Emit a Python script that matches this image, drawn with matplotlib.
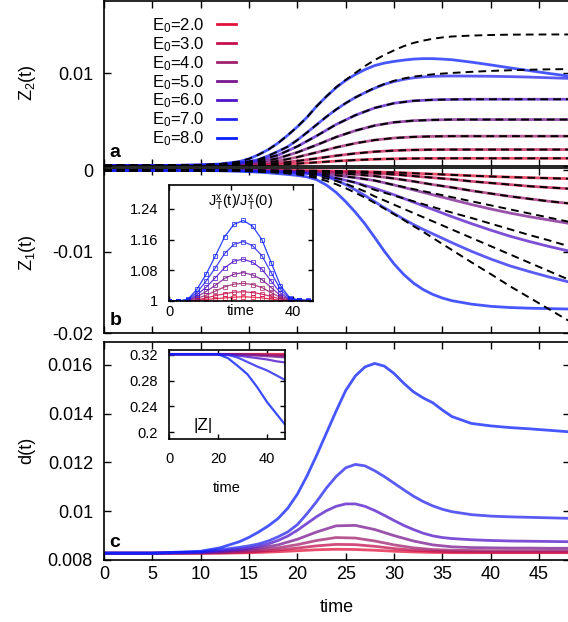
import numpy as np
import matplotlib
matplotlib.use("Agg")
import matplotlib.pyplot as plt

plt.rcParams['font.family'] = ['Liberation Sans', 'DejaVu Sans']
plt.rcParams['mathtext.default'] = 'regular'
plt.rcParams['axes.unicode_minus'] = False

# ---- data (main panels in units of 1e-3) ----
energies = ['2.0', '3.0', '4.0', '5.0', '6.0', '7.0', '8.0']
colors = ['#e2123a', '#c4104e', '#a0206e', '#78188e', '#5014c8', '#2424f0', '#0a1eff']

# coarse time grid for the gentle curves, finer one for the strongly bent ones
t = [0, 5, 10, 12, 14, 16, 18, 20, 22, 24, 26, 28, 30, 32, 34, 36, 38, 40, 42, 44, 46, 48]
t_fine = [0, 5, 10, 12, 14, 15, 16, 17, 18, 19, 20, 21, 22, 23, 24, 25, 26, 27, 28, 29, 30,
          31, 32, 33, 34, 35, 36, 38, 40, 42, 44, 46, 48]

# panel a: Z2(t)
z2_e2 = [0, 0, 0.01, 0.02, 0.04, 0.07, 0.13, 0.23, 0.36, 0.50, 0.61, 0.70, 0.75, 0.78, 0.79, 0.80, 0.80, 0.80, 0.80, 0.80, 0.80, 0.80]
z2_e3 = [0, 0, 0.02, 0.04, 0.07, 0.14, 0.28, 0.51, 0.79, 1.08, 1.33, 1.52, 1.64, 1.71, 1.74, 1.75, 1.75, 1.75, 1.75, 1.75, 1.75, 1.75]
z2_e4 = [0, 0, 0.03, 0.06, 0.12, 0.25, 0.51, 0.93, 1.44, 1.98, 2.43, 2.78, 3.00, 3.12, 3.18, 3.20, 3.20, 3.20, 3.20, 3.20, 3.20, 3.20]
z2_e5 = [0, 0, 0.05, 0.10, 0.19, 0.39, 0.80, 1.45, 2.25, 3.10, 3.80, 4.35, 4.70, 4.88, 4.96, 5.00, 5.00, 5.00, 5.00, 5.00, 5.00, 5.00]
z2_e6 = [0, 0, 0.07, 0.14, 0.27, 0.56, 1.15, 2.09, 3.24, 4.46, 5.47, 6.26, 6.77, 7.03, 7.14, 7.18, 7.20, 7.20, 7.20, 7.20, 7.20, 7.20]
z2_e7 = [0, 0, 0.06, 0.14, 0.30, 0.44, 0.68, 1.08, 1.55, 2.06, 2.78, 3.60, 4.45, 5.30, 6.08, 6.78, 7.40,
         7.92, 8.40, 8.82, 9.12, 9.35, 9.52, 9.62, 9.68, 9.71, 9.72, 9.71, 9.69, 9.65, 9.60, 9.53, 9.46]
z2_e8 = [0, 0, 0.08, 0.18, 0.45, 0.75, 1.20, 1.75, 2.45, 3.30, 4.22, 5.25, 6.45, 7.50, 8.45, 9.25, 9.88,
         10.42, 10.85, 11.12, 11.30, 11.44, 11.55, 11.60, 11.60, 11.55, 11.48, 11.22, 10.92, 10.60, 10.30, 10.00, 9.72]
z2_e7_dash = [0, 0, 0.06, 0.14, 0.30, 0.44, 0.68, 1.08, 1.55, 2.06, 2.78, 3.60, 4.45, 5.30, 6.08, 6.78, 7.40,
              7.92, 8.45, 8.85, 9.20, 9.45, 9.65, 9.78, 9.90, 9.98, 10.05, 10.17, 10.27, 10.34, 10.40, 10.44, 10.47]
z2_e8_dash = [0, 0, 0.08, 0.18, 0.45, 0.75, 1.20, 1.75, 2.45, 3.30, 4.22, 5.25, 6.45, 7.50, 8.50, 9.30, 10.05,
              10.80, 11.45, 12.00, 12.50, 12.95, 13.30, 13.55, 13.75, 13.90, 14.00, 14.10, 14.16, 14.20, 14.21, 14.22, 14.22]

# panel b: Z1(t)
z1_e2 = [0, 0, 0, 0, -0.005, -0.01, -0.02, -0.03, -0.05, -0.08, -0.12, -0.18, -0.25, -0.35, -0.45, -0.55, -0.66, -0.75, -0.83, -0.90, -0.96, -1.02]
z1_e3 = [0, 0, 0, -0.005, -0.01, -0.02, -0.04, -0.06, -0.10, -0.17, -0.26, -0.37, -0.50, -0.70, -0.90, -1.10, -1.35, -1.55, -1.75, -1.95, -2.10, -2.25]
z1_e4 = [0, 0, -0.005, -0.01, -0.02, -0.04, -0.07, -0.12, -0.20, -0.33, -0.50, -0.70, -1.00, -1.35, -1.75, -2.10, -2.50, -2.85, -3.20, -3.50, -3.80, -4.05]
z1_e5 = [0, 0, -0.01, -0.02, -0.03, -0.06, -0.10, -0.18, -0.35, -0.60, -0.90, -1.25, -1.80, -2.40, -3.00, -3.60, -4.20, -4.75, -5.25, -5.70, -6.10, -6.50]
z1_e6 = [0, 0, -0.01, -0.02, -0.04, -0.08, -0.14, -0.25, -0.50, -0.95, -1.50, -2.20, -3.00, -3.90, -4.80, -5.70, -6.55, -7.35, -8.10, -8.75, -9.35, -9.90]
z1_e7 = [0, 0, -0.01, -0.03, -0.06, -0.08, -0.11, -0.15, -0.20, -0.25, -0.30, -0.36, -0.45, -0.75, -1.20, -1.75, -2.40,
         -3.10, -3.85, -4.60, -5.30, -6.00, -6.65, -7.25, -7.80, -8.35, -8.90, -9.95, -10.90, -11.75, -12.45, -13.10, -13.70]
z1_e8 = [0, 0, -0.02, -0.05, -0.10, -0.15, -0.22, -0.30, -0.40, -0.50, -0.62, -0.80, -1.15, -1.80, -2.70, -3.85, -5.15,
         -6.60, -8.25, -9.95, -11.50, -12.80, -13.85, -14.65, -15.25, -15.70, -16.03, -16.45, -16.72, -16.87, -16.95, -17.00, -17.05]
z1_e5_dash = [0, 0, -0.01, -0.02, -0.03, -0.06, -0.10, -0.18, -0.35, -0.60, -0.90, -1.25, -1.80, -2.30, -2.80, -3.30, -3.80, -4.30, -4.80, -5.30, -5.80, -6.30]
z1_e6_dash = [0, 0, -0.01, -0.02, -0.04, -0.08, -0.14, -0.25, -0.50, -0.95, -1.50, -2.40, -3.10, -3.80, -4.50, -5.20, -5.85, -6.55, -7.25, -7.95, -8.60, -9.30]
z1_e7_dash = [0, 0, -0.01, -0.03, -0.06, -0.08, -0.12, -0.17, -0.22, -0.30, -0.40, -0.55, -0.75, -1.00, -1.30, -1.65, -2.10,
              -2.60, -3.20, -3.70, -4.22, -4.73, -5.24, -5.75, -6.26, -6.77, -7.28, -8.30, -9.32, -10.34, -11.36, -12.38, -13.40]
z1_e8_dash = [0, 0, -0.02, -0.05, -0.07, -0.10, -0.15, -0.20, -0.28, -0.38, -0.50, -0.70, -0.95, -1.30, -1.70, -2.20, -2.75,
              -3.35, -4.00, -4.70, -5.40, -6.10, -6.85, -7.55, -8.30, -9.05, -9.80, -11.30, -12.75, -14.25, -15.65, -17.05, -18.45]

# panel c: d(t)
d_e2 = [8.28, 8.28, 8.28, 8.28, 8.29, 8.31, 8.34, 8.38, 8.42, 8.44, 8.43, 8.40, 8.36, 8.33, 8.31, 8.30, 8.30, 8.30, 8.30, 8.30, 8.30, 8.30]
d_e3 = [8.28, 8.28, 8.28, 8.29, 8.31, 8.35, 8.41, 8.49, 8.58, 8.64, 8.63, 8.56, 8.47, 8.40, 8.36, 8.34, 8.33, 8.32, 8.32, 8.32, 8.32, 8.32]
d_e4 = [8.28, 8.28, 8.29, 8.31, 8.35, 8.41, 8.50, 8.63, 8.80, 8.92, 8.90, 8.78, 8.62, 8.50, 8.43, 8.40, 8.39, 8.38, 8.38, 8.38, 8.38, 8.38]
d_e5 = [8.28, 8.28, 8.30, 8.33, 8.39, 8.48, 8.62, 8.85, 9.15, 9.40, 9.42, 9.25, 9.00, 8.78, 8.62, 8.54, 8.51, 8.50, 8.49, 8.49, 8.48, 8.48]
d_e6 = [8.28, 8.28, 8.31, 8.36, 8.44, 8.49, 8.56, 8.66, 8.80, 8.98, 9.22, 9.50, 9.78, 10.02, 10.20, 10.30, 10.30,
        10.20, 10.03, 9.83, 9.62, 9.42, 9.25, 9.10, 8.99, 8.92, 8.88, 8.83, 8.80, 8.78, 8.77, 8.76, 8.75]
d_e7 = [8.28, 8.28, 8.33, 8.42, 8.52, 8.58, 8.66, 8.78, 8.95, 9.15, 9.45, 9.90, 10.40, 10.95, 11.42, 11.78, 11.92,
        11.86, 11.66, 11.42, 11.15, 10.88, 10.62, 10.40, 10.22, 10.08, 9.98, 9.86, 9.80, 9.77, 9.75, 9.73, 9.71]
d_e8 = [8.28, 8.28, 8.36, 8.50, 8.75, 8.93, 9.15, 9.40, 9.70, 10.12, 10.70, 11.45, 12.30, 13.20, 14.10, 14.95, 15.55,
        15.92, 16.06, 15.95, 15.65, 15.25, 14.90, 14.65, 14.45, 14.15, 13.88, 13.60, 13.50, 13.43, 13.38, 13.32, 13.26]

# inset b: J_T^x(t)/J_T^x(0)
tj = [0, 3, 6, 9, 12, 15, 18, 21, 24, 27, 30, 33, 36, 39, 42, 45, 48]
j_e2 = [1.0, 1.0, 1.0, 1.002, 1.004, 1.006, 1.008, 1.010, 1.011, 1.010, 1.008, 1.005, 1.002, 1.0, 1.0, 1.0, 1.0]
j_e3 = [1.0, 1.0, 1.0, 1.003, 1.008, 1.014, 1.019, 1.023, 1.024, 1.022, 1.018, 1.012, 1.005, 1.001, 1.0, 1.0, 1.0]
j_e4 = [1.0, 1.0, 1.001, 1.007, 1.015, 1.026, 1.037, 1.044, 1.046, 1.043, 1.035, 1.022, 1.009, 1.002, 1.0, 1.0, 1.0]
j_e5 = [1.0, 1.0, 1.001, 1.011, 1.025, 1.041, 1.059, 1.070, 1.074, 1.068, 1.056, 1.035, 1.014, 1.003, 1.001, 1.0, 1.0]
j_e6 = [1.0, 1.0, 1.002, 1.016, 1.036, 1.061, 1.087, 1.104, 1.109, 1.101, 1.083, 1.052, 1.021, 1.004, 1.002, 1.001, 1.0]
j_e7 = [1.0, 1.0, 1.003, 1.022, 1.052, 1.087, 1.124, 1.148, 1.155, 1.144, 1.118, 1.074, 1.030, 1.006, 1.002, 1.001, 1.0]
j_e8 = [1.0, 1.0, 1.004, 1.030, 1.070, 1.118, 1.168, 1.200, 1.210, 1.195, 1.160, 1.100, 1.040, 1.008, 1.003, 1.002, 1.001]

# inset c: |Z|
tz = [0, 10, 20, 24, 28, 32, 36, 40, 44, 48]
absz_e2 = [0.321, 0.321, 0.321, 0.321, 0.321, 0.321, 0.321, 0.321, 0.321, 0.321]
absz_e3 = [0.321, 0.321, 0.321, 0.321, 0.321, 0.321, 0.321, 0.320, 0.320, 0.320]
absz_e4 = [0.321, 0.321, 0.321, 0.321, 0.321, 0.321, 0.320, 0.320, 0.319, 0.319]
absz_e5 = [0.321, 0.321, 0.321, 0.321, 0.321, 0.320, 0.319, 0.318, 0.317, 0.316]
absz_e6 = [0.321, 0.321, 0.321, 0.321, 0.319, 0.317, 0.315, 0.313, 0.310, 0.308]
absz_e7 = [0.321, 0.321, 0.321, 0.320, 0.316, 0.309, 0.302, 0.296, 0.288, 0.280]
absz_e8 = [0.321, 0.321, 0.321, 0.315, 0.303, 0.290, 0.270, 0.247, 0.228, 0.209]

z2_t = [t, t, t, t, t, t_fine, t_fine]
z2_all = [z2_e2, z2_e3, z2_e4, z2_e5, z2_e6, z2_e7, z2_e8]
z2_dash = [z2_e2, z2_e3, z2_e4, z2_e5, z2_e6, z2_e7_dash, z2_e8_dash]
z1_t = [t, t, t, t, t, t_fine, t_fine]
z1_all = [z1_e2, z1_e3, z1_e4, z1_e5, z1_e6, z1_e7, z1_e8]
z1_dash = [z1_e2, z1_e3, z1_e4, z1_e5_dash, z1_e6_dash, z1_e7_dash, z1_e8_dash]
d_t = [t, t, t, t, t_fine, t_fine, t_fine]
d_all = [d_e2, d_e3, d_e4, d_e5, d_e6, d_e7, d_e8]
j_all = [j_e2, j_e3, j_e4, j_e5, j_e6, j_e7, j_e8]
absz_all = [absz_e2, absz_e3, absz_e4, absz_e5, absz_e6, absz_e7, absz_e8]

W, H = 568.0, 622.0


def rect(l, top, r, b):
    return [l / W, 1 - b / H, (r - l) / W, (b - top) / H]


def style(ax, size=13, length=5, pad=4):
    for s in ax.spines.values():
        s.set_linewidth(1.2)
    ax.tick_params(direction='in', length=length, width=1, top=True, right=True,
                   labelsize=size, pad=pad)


fig = plt.figure(figsize=(5.68, 6.22), dpi=100)
ax_a = fig.add_axes(rect(104, 0.5, 570, 165.7))
ax_b = fig.add_axes(rect(104, 168.5, 570, 333))
ax_c = fig.add_axes(rect(104, 342, 570, 560))

dash = (0, (4.0, 2.6))

# panel a
lines = []
for i in range(7):
    ln, = ax_a.plot(z2_t[i], np.array(z2_all[i]) * 1e-3, color=colors[i], lw=2.0, alpha=0.75,
                    label='E$_0$=' + energies[i])
    lines.append(ln)
for i in range(7):
    ax_a.plot(z2_t[i], np.array(z2_dash[i]) * 1e-3, color='k', lw=1.4, ls=dash)
ax_a.set_xlim(0, 48.2)
ax_a.set_ylim(0, 0.0179)
ax_a.set_yticks([0, 0.01])
ax_a.set_yticklabels(['', '0.01'])  # the shared "0" is drawn by panel b
ax_a.set_xticks(range(0, 50, 5))
ax_a.set_xticklabels([])
style(ax_a, pad=8)
ax_a.text(0.011, 0.053, 'a', transform=ax_a.transAxes, fontsize=14, fontweight='bold', va='baseline')
leg = ax_a.legend(handles=lines, loc='upper left', bbox_to_anchor=(0.085, 0.955), frameon=False,
                  markerfirst=False, fontsize=12, handlelength=1.15, handletextpad=0.75,
                  labelspacing=0.01, borderpad=0)
for h in leg.legend_handles:
    h.set_alpha(1)

# panel b
for i in range(7):
    ax_b.plot(z1_t[i], np.array(z1_all[i]) * 1e-3, color=colors[i], lw=2.0, alpha=0.75)
for i in range(7):
    ax_b.plot(z1_t[i], np.array(z1_dash[i]) * 1e-3, color='k', lw=1.4, ls=dash)
ax_b.set_xlim(0, 48.2)
ax_b.set_ylim(-0.02, 0.00023)
ax_b.set_yticks([-0.02, -0.01, 0])
ax_b.set_yticklabels(['-0.02', '-0.01', '0'])
ax_b.set_xticks(range(0, 50, 5))
ax_b.set_xticklabels([])
style(ax_b, pad=8)
ax_b.text(0.013, 0.049, 'b', transform=ax_b.transAxes, fontsize=14, fontweight='bold', va='baseline')

# panel c
for i in range(7):
    ax_c.plot(d_t[i], np.array(d_all[i]) * 1e-3, color=colors[i], lw=2.0, alpha=0.75)
ax_c.set_xlim(0, 48.2)
ax_c.set_ylim(0.008, 0.01694)
ax_c.set_yticks([0.008, 0.01, 0.012, 0.014, 0.016])
ax_c.set_yticklabels(['0.008', '0.01', '0.012', '0.014', '0.016'])
ax_c.set_xticks(range(0, 50, 5))
style(ax_c, pad=8)
ax_c.tick_params(axis='x', pad=4)
ax_c.set_xlabel('time', fontsize=13)
ax_c.xaxis.set_label_coords(0.5, -0.18)
ax_c.text(0.011, 0.06, 'c', transform=ax_c.transAxes, fontsize=14, fontweight='bold', va='baseline')

# y labels
fig.text(27 / W, 1 - 83 / H, 'Z$_2$(t)', rotation=90, ha='center', va='center', fontsize=13)
fig.text(27 / W, 1 - 253 / H, 'Z$_1$(t)', rotation=90, ha='center', va='center', fontsize=13)
fig.text(27 / W, 1 - 450 / H, 'd(t)', rotation=90, ha='center', va='center', fontsize=13)

# inset b
ins_b = fig.add_axes(rect(169, 185, 313, 301))
for i in range(7):
    ins_b.plot(tj, j_all[i], color=colors[i], lw=0.9, alpha=0.85, marker='s', ms=2.2,
               mfc='none', mew=0.6)
ins_b.set_xlim(0, 46.5)
ins_b.set_ylim(1, 1.3025)
ins_b.set_yticks([1, 1.08, 1.16, 1.24])
ins_b.set_yticklabels(['1', '1.08', '1.16', '1.24'])
ins_b.set_xticks([0, 20, 40])
ins_b.set_xticklabels(['0', '', '40'])
style(ins_b, size=10.5, length=3.5, pad=3)
ins_b.tick_params(axis='y', pad=8)
ins_b.set_xlabel('time', fontsize=10.5)
ins_b.xaxis.set_label_coords(0.5, -0.03)
ins_b.text(0.5, 0.93, '$J^x_T(t)/J^x_T(0)$', transform=ins_b.transAxes, ha='center', va='top',
           fontsize=10.5)

# inset c
ins_c = fig.add_axes(rect(169.3, 350, 285, 439.3))
for i in range(7):
    ins_c.plot(tz, absz_all[i], color=colors[i], lw=1.6, alpha=0.8)
ins_c.set_xlim(0, 47.4)
ins_c.set_ylim(0.189, 0.3276)
ins_c.set_yticks([0.2, 0.24, 0.28, 0.32])
ins_c.set_yticklabels(['0.2', '0.24', '0.28', '0.32'])
ins_c.set_xticks([0, 20, 40])
style(ins_c, size=10.5, length=3.5, pad=9.5)
ins_c.tick_params(axis='y', pad=8)
ins_c.set_xlabel('time', fontsize=10.5)
ins_c.xaxis.set_label_coords(0.5, -0.47)
ins_c.text(0.205, 0.104, '|Z|', transform=ins_c.transAxes, fontsize=12.5, va='baseline')

fig.savefig('out.png', dpi=100)
